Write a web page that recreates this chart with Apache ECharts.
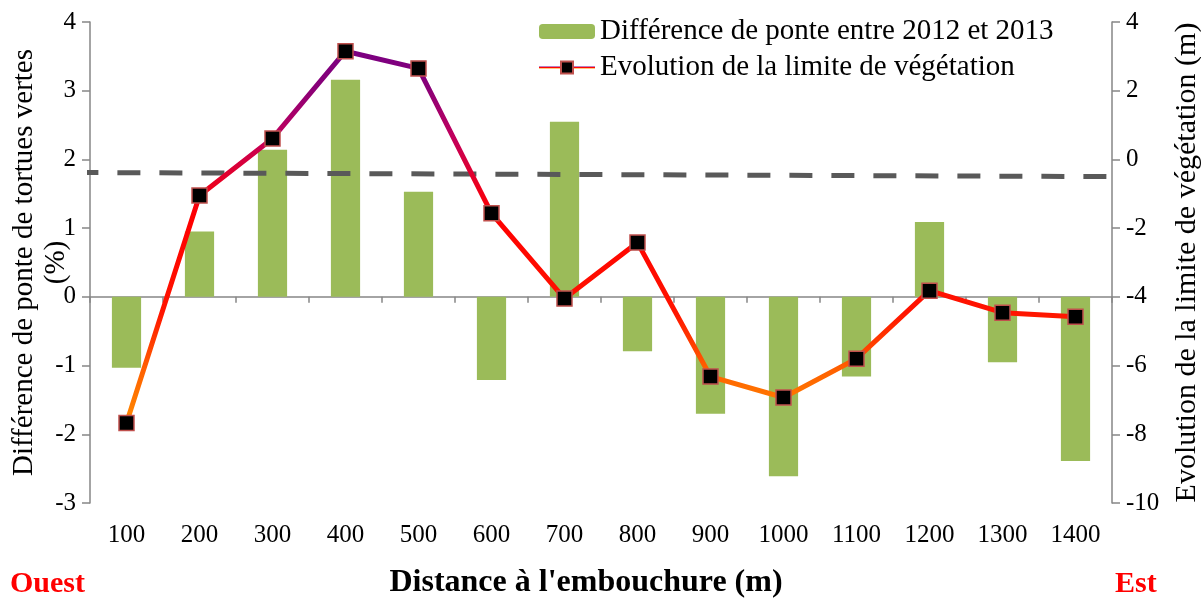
<!DOCTYPE html>
<html>
<head>
<meta charset="utf-8">
<script src="https://cdn.jsdelivr.net/npm/echarts@6/dist/echarts.min.js"></script>
<style>html,body{margin:0;padding:0;background:#fff;}#c{width:1201px;height:603px;}</style>
</head>
<body>
<div id="c"></div>
<script>
const categories = ['100','200','300','400','500','600','700','800','900','1000','1100','1200','1300','1400'];
const ponteDiff = [-1.03, 0.95, 2.14, 3.16, 1.53, -1.21, 2.55, -0.79, -1.70, -2.61, -1.16, 1.09, -0.95, -2.39];
const vegLimit = [-7.67, -1.05, 0.61, 3.15, 2.65, -1.57, -4.05, -2.42, -6.32, -6.93, -5.80, -3.82, -4.46, -4.58];
const trendX = [30, 1450];
const trendY = [-0.38, -0.50];
const leftTicks = { min: -3, max: 4, interval: 1 };
const rightTicks = { min: -10, max: 4, interval: 2 };

const serif = 'Liberation Serif';
const chart = echarts.init(document.getElementById('c'));
const lineGrad = new echarts.graphic.LinearGradient(0, 0, 0, 1, [
  { offset: 0, color: '#7A0082' },
  { offset: 0.1, color: '#880078' },
  { offset: 0.23, color: '#C0005E' },
  { offset: 0.38, color: '#F00018' },
  { offset: 0.45, color: '#FF0000' },
  { offset: 0.7, color: '#FF1400' },
  { offset: 0.85, color: '#FF6000' },
  { offset: 1, color: '#FF8C00' }
]);

chart.setOption({
  backgroundColor: '#fff',
  animation: false,
  textStyle: { fontFamily: serif },
  grid: { left: 90, right: 89, top: 22, bottom: 100, containLabel: false, outerBoundsMode: 'none' },
  legend: {
    orient: 'vertical',
    left: 533, top: 12,
    itemWidth: 56, itemHeight: 15, itemGap: 7,
    textStyle: { fontFamily: serif, fontSize: 29, color: '#000' },
    data: ['Différence de ponte entre 2012 et 2013', 'Evolution de la limite de végétation']
  },
  xAxis: [
    {
      type: 'category', data: categories, position: 'bottom',
      axisLine: { onZero: true, lineStyle: { color: '#868686', width: 1.5 } },
      axisTick: { show: true, length: 6, lineStyle: { color: '#868686', width: 1.5 } },
      axisLabel: { show: false }
    },
    {
      type: 'category', data: categories, position: 'bottom',
      axisLine: { show: false, onZero: false }, axisTick: { show: false },
      axisLabel: { margin: 20, fontFamily: serif, fontSize: 25, color: '#000' },
      name: "Distance à l'embouchure (m)", nameLocation: 'middle', nameGap: 64,
      nameTextStyle: { fontFamily: serif, fontSize: 32, fontWeight: 'bold', color: '#000', padding: [0, 30, 0, 0] }
    },
    { type: 'value', min: 50, max: 1450, show: false }
  ],
  yAxis: [
    {
      type: 'value', min: leftTicks.min, max: leftTicks.max, interval: leftTicks.interval,
      position: 'left',
      axisLine: { show: true, lineStyle: { color: '#868686', width: 1.5 } },
      axisTick: { show: true, length: 8, lineStyle: { color: '#868686', width: 1.5 } },
      splitLine: { show: false },
      axisLabel: { margin: 14, fontFamily: serif, fontSize: 25, color: '#000' },
      name: 'Différence de ponte de tortues vertes\n(%)', nameLocation: 'middle', nameRotate: 90, nameGap: 18,
      nameMoveOverlap: false,
      nameTextStyle: { fontFamily: serif, fontSize: 29, color: '#000', lineHeight: 32 }
    },
    {
      type: 'value', min: rightTicks.min, max: rightTicks.max, interval: rightTicks.interval,
      position: 'right',
      axisLine: { show: true, lineStyle: { color: '#868686', width: 1.5 } },
      axisTick: { show: true, length: 8, lineStyle: { color: '#868686', width: 1.5 } },
      splitLine: { show: false },
      axisLabel: { margin: 14, fontFamily: serif, fontSize: 25, color: '#000' },
      name: 'Evolution de la limite de végétation (m)', nameLocation: 'middle', nameRotate: 90, nameGap: 60,
      nameTextStyle: { fontFamily: serif, fontSize: 30, color: '#000' }
    }
  ],
  series: [
    {
      name: 'Différence de ponte entre 2012 et 2013',
      type: 'bar', xAxisIndex: 0, yAxisIndex: 0,
      data: ponteDiff, barWidth: '40%',
      itemStyle: { color: '#9BBB59' }
    },
    {
      name: 'trend', type: 'line', xAxisIndex: 2, yAxisIndex: 1,
      data: trendX.map((x, i) => [x, trendY[i]]),
      symbol: 'none', clip: false, silent: true,
      lineStyle: { color: '#595959', width: 5, type: [23, 19] }
    },
    {
      name: 'Evolution de la limite de végétation',
      type: 'line', xAxisIndex: 0, yAxisIndex: 1,
      data: vegLimit,
      symbol: 'rect', symbolSize: 15,
      lineStyle: { color: lineGrad, width: 5 },
      itemStyle: { color: '#000', borderColor: '#C0504D', borderWidth: 1.5 },
      z: 5
    }
  ],
  graphic: [
    { type: 'text', left: 10, top: 569, style: { text: 'Ouest', font: 'bold 30px "Liberation Serif"', fill: '#FF0000' } },
    { type: 'text', left: 1115, top: 569, style: { text: 'Est', font: 'bold 30px "Liberation Serif"', fill: '#FF0000' } }
  ]
});
</script>
</body>
</html>
